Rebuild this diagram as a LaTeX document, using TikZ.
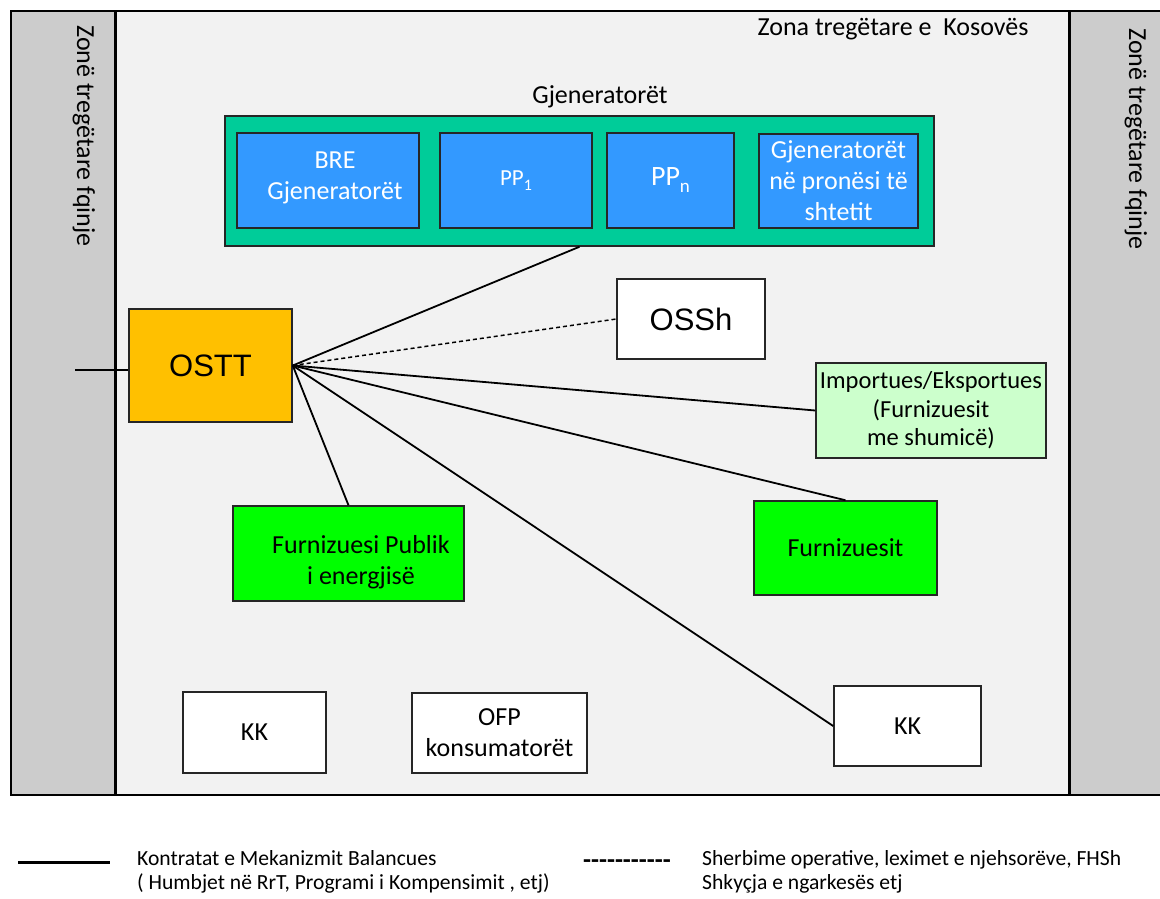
\documentclass[tikz,border=0pt]{standalone}
\usepackage{fontspec}
\setmainfont{Carlito}
\newfontfamily\arialfont{Liberation Sans}
\usetikzlibrary{positioning}
\definecolor{zonegray}{HTML}{CCCCCC}
\definecolor{kosgray}{HTML}{F2F2F2}
\definecolor{genteal}{HTML}{00CC99}
\definecolor{genblue}{HTML}{3399FF}
\definecolor{osttorange}{HTML}{FFC000}
\definecolor{importgreen}{HTML}{CCFFCC}
\definecolor{furngreen}{HTML}{00FF00}
\newcommand{\fsz}[2]{\fontsize{#1}{#2}\selectfont}
\newcommand{\hy}{\mbox{-}}
\tikzset{
  box/.style={draw=black!85, line width=1.5pt, align=center},
  genbox/.style={box, fill=genblue, text=white, minimum height=95pt},
  plainbox/.style={box, fill=white},
  link/.style={line width=1.8pt},
  servicelink/.style={line width=1.5pt, dash pattern=on 4pt off 3pt},
  legendtext/.style={anchor=west, align=left, font=\fsz{21.6}{24}}
}

\begin{document}
\begin{tikzpicture}[x=1pt, y=-1pt, every node/.style={font=\fsz{26}{31}, inner sep=0pt}]
  \useasboundingbox (0,0) rectangle (1160,898);
  \clip (0,0) rectangle (1160,898);
  % trading zones
  \fill[zonegray] (11,11) rectangle (115,795);
  \fill[zonegray] (1070,11) rectangle (1165,795);
  \fill[kosgray] (115,11) rectangle (1070,795);
  \draw[line width=2pt] (1165,11) -- (11,11) -- (11,795) -- (1165,795);
  \draw[line width=3pt] (115,11) -- (115,795);
  \draw[line width=3pt] (1069,11) -- (1069,795);
  \node[anchor=base west, rotate=-90] (nbleft) at (77,25) {Zonë tregëtare fqinje};
  \node[anchor=base west, rotate=-90] (nbright) at (1129,28) {Zonë tregëtare fqinje};
  \node (kostitle) at (893,29) {Zona tregëtare e\ \ Kosovës};

  % generators
  \node (genlabel) at (600,97) {Gjeneratorët};
  \node[box, fill=genteal, minimum width=709pt, minimum height=130pt] (gens) at (579.5,181) {};
  \node[genbox, minimum width=182pt] (bre) at (328,180.5) {};
  \node[text=white, align=center] at ([xshift=7pt, yshift=3pt]bre.center) {BRE\\Gjeneratorët};
  \node[genbox, minimum width=152pt] (pp1) at (516,180.5) {\fsz{23}{27}PP\raisebox{-5pt}{\fsz{16}{16}1}};
  \node[genbox, minimum width=127pt] (ppn) at (670.5,180.5) {\fsz{28}{32}PP\raisebox{-7pt}{\fsz{19}{19}n}};
  \node[genbox, minimum width=159pt, minimum height=94pt] (state) at (838.5,181) {Gjeneratorët\\në pronësi të\\shtetit};

  % market participants
  \node[box, fill=osttorange, minimum width=163pt, minimum height=113pt, font=\arialfont\fsz{31}{36}] (ostt) at (210.5,365.5) {OSTT};
  \node[plainbox, minimum width=148pt, minimum height=80pt, font=\arialfont\fsz{31}{36}] (ossh) at (691,319) {OSSh};
  \node[box, fill=importgreen, minimum width=230pt, minimum height=95pt, font=\fsz{24.5}{28.5}] (import) at (931,410.5) {Importues/Eksportues\\(Furnizuesit\\me shumicë)};
  \node[box, fill=furngreen, minimum width=183pt, minimum height=94pt] (furn) at (845.5,548) {Furnizuesit};
  \node[box, fill=furngreen, minimum width=231pt, minimum height=95pt] (fpub) at (348.5,553.5) {};
  \node[align=center] at (361,562) {Furnizuesi Publik\\i energjisë};
  \node[plainbox, minimum width=143pt, minimum height=81pt] (kkleft) at (254.5,732.5) {KK};
  \node[plainbox, minimum width=175pt, minimum height=80pt] (ofp) at (499.5,733) {OFP\\konsumatorët};
  \node[plainbox, minimum width=147pt, minimum height=80pt] (kkright) at (907.5,726) {KK};

  % contracts
  \coordinate (ext) at (75,370);
  \draw[link] (ext) -- (ostt.west |- ext);
  \draw[link] (ostt.east) -- (gens.south);
  \draw[servicelink] (ostt.east) -- (ossh.west);
  \draw[link] (ostt.east) -- (import.west);
  \draw[link] (ostt.east) -- (furn.north);
  \draw[link] (ostt.east) -- (kkright.west);
  \draw[link] (ostt.east) -- (fpub.north);

  % legend
  \coordinate (solidA) at (18,862);
  \coordinate (solidB) at (110,862);
  \draw[line width=3pt] (solidA) -- (solidB);
  \node[legendtext] (contracts) at (137,872) {Kontratat e Mekanizmit Balancues\\( Humbjet në RrT, Programi i Kompensimit , etj)};
  \node[anchor=west, font=\bfseries\fsz{26}{31}] (dashes) at (583,864) {\hy\hy\hy\hy\hy\hy\hy\hy\hy\hy\hy};
  \node[legendtext] (services) at (702,872) {Sherbime operative, leximet e njehsorëve, FHSh\\Shkyçja e ngarkesës etj};
\end{tikzpicture}
\end{document}
